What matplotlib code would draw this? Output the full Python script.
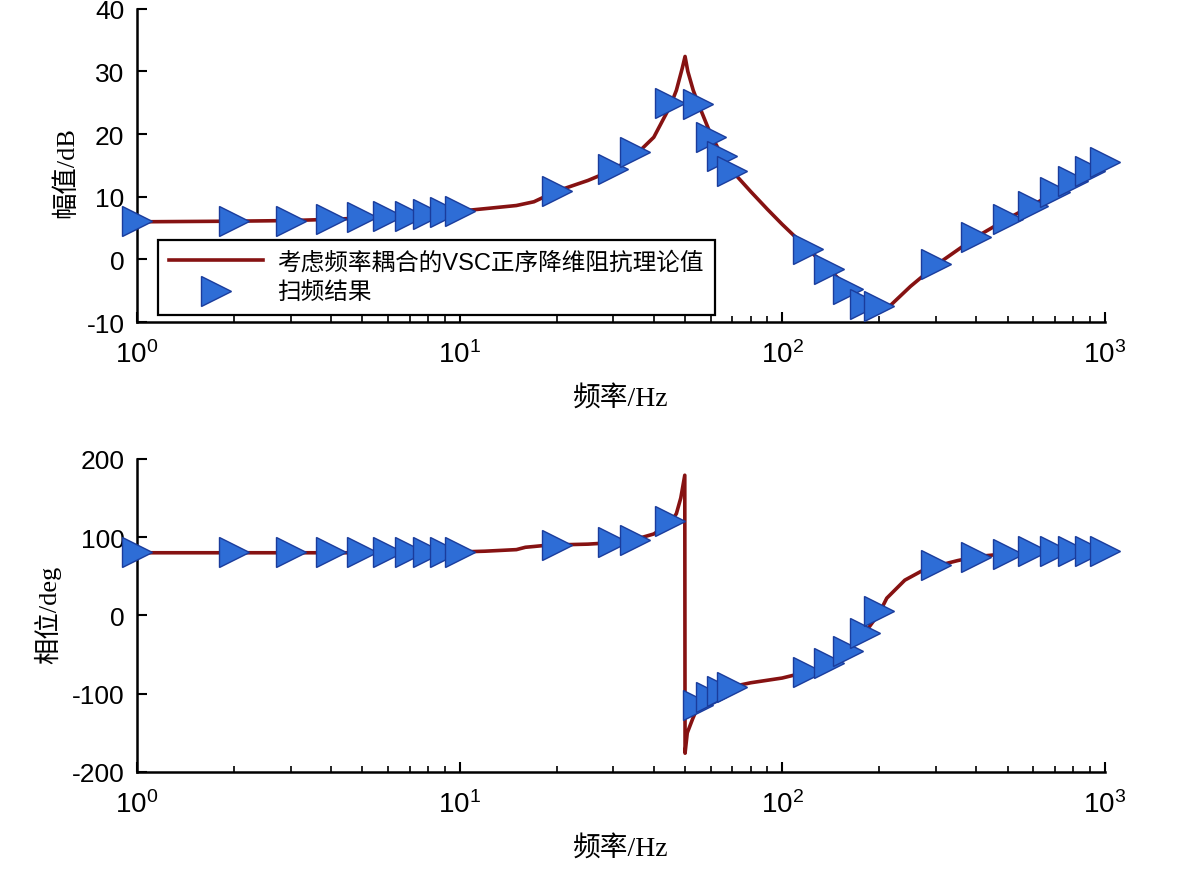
import matplotlib

matplotlib.use("Agg")
import matplotlib.pyplot as plt

plt.rcParams["font.family"] = ["Liberation Sans", "Noto Sans CJK SC"]
plt.rcParams["axes.unicode_minus"] = False

# theoretical impedance curve
curve_f = [1, 2, 3, 4, 5, 6, 7, 8, 9, 10, 12, 15, 17, 20, 25, 30, 35, 40, 45, 47, 49,
           50, 51, 53, 55, 60, 65, 70, 80, 90, 100, 120, 140, 160, 180, 200, 212,
           250, 300, 400, 500, 600, 700, 800, 900, 1000]
curve_mag = [6.0, 6.1, 6.2, 6.4, 6.6, 6.8, 7.0, 7.2, 7.5, 7.7, 8.1, 8.6, 9.2, 10.9, 12.6,
             14.3, 16.6, 19.5, 24.5, 27.0, 30.5, 32.4, 30.0, 27.0, 24.8, 20.0, 16.6,
             14.1, 10.8, 8.0, 5.6, 1.7, -1.6, -4.6, -6.9, -7.5, -7.8, -4.3, -0.9, 3.6,
             6.5, 8.7, 10.7, 12.4, 14.0, 15.4]

phase_f = [1, 2, 5, 10, 12, 15, 16, 17, 18, 20, 25, 30, 35, 40, 45, 47, 48.5, 49.9,
           50.0, 50.8, 52.8, 55, 60, 65, 70, 80, 100, 120, 140, 160, 180, 200, 211,
           240, 280, 300, 350, 400, 500, 600, 700, 1000]
phase_deg = [80, 80, 80, 81, 82, 84, 87, 88, 89, 90, 91, 93, 97, 104, 118, 130, 150,
             179, -176, -150, -132, -115, -104, -97, -91, -86, -80, -72, -62, -46, -23,
             3, 22, 45, 60, 63, 70, 75, 79, 81, 82, 82]

# frequency-scan results
scan_f = [1, 2, 3, 4, 5, 6, 7, 8, 9, 10, 20, 30, 35, 45, 55, 60, 65, 70, 120, 140, 160,
          180, 200, 300, 400, 500, 600, 700, 800, 900, 1000]
scan_mag = [6.1, 6.1, 6.2, 6.4, 6.7, 6.9, 7.0, 7.3, 7.5, 7.7, 10.9, 14.4, 17.1, 25.0,
            24.8, 19.6, 16.5, 14.1, 1.6, -1.6, -4.8, -7.2, -7.5, -0.8, 3.5, 6.4, 8.5,
            10.7, 12.5, 14.1, 15.5]
scan_phase = [81, 81, 81, 81, 81, 81, 81, 81, 81, 81, 90, 94, 96, 120, -115, -104, -97,
              -91, -72, -61, -46, -23, 5, 64, 75, 79, 82, 82, 82, 82, 82]

LINE_COLOR = "#861212"
MK_FACE = "#2e6dd6"
MK_EDGE = "#1a3c9c"
LABEL_FONT = ["Liberation Serif", "Noto Sans CJK SC"]


def style_axes(ax, ylim, yticks):
	ax.set_xscale("log")
	ax.set_xlim(1, 1000)
	ax.set_ylim(*ylim)
	ax.set_yticks(yticks)
	for side in ("top", "right"):
		ax.spines[side].set_visible(False)
	for side in ("left", "bottom"):
		ax.spines[side].set_linewidth(1.8)
	ax.tick_params(axis="both", which="major", direction="in", length=7, width=1.5, labelsize=19)
	ax.tick_params(axis="x", which="major", labelsize=20, pad=13)
	ax.tick_params(axis="both", which="minor", direction="in", length=4, width=1.2)
	ax.tick_params(axis="y", which="major", pad=9)
	ax.set_xlabel("频率/Hz", fontsize=20, family=LABEL_FONT, labelpad=12)


fig = plt.figure(figsize=(11.86, 8.70), dpi=100)
ax1 = fig.add_axes([0.1155, 0.6287, 0.816, 0.360])
ax2 = fig.add_axes([0.1155, 0.1115, 0.816, 0.360])

ax1.plot(curve_f, curve_mag, color=LINE_COLOR, lw=2.6, label="考虑频率耦合的VSC正序降维阻抗理论值", zorder=2)
ax1.plot(scan_f, scan_mag, ls="none", marker=">", ms=21, mfc=MK_FACE, mec=MK_EDGE, mew=1.0,
		 label="扫频结果", zorder=3, clip_on=False)
style_axes(ax1, (-10, 40), [-10, 0, 10, 20, 30, 40])
ax1.set_ylabel("幅值/dB", fontsize=19, family=LABEL_FONT)
ax1.yaxis.set_label_coords(-0.061, 0.48)
leg = ax1.legend(loc="lower left", bbox_to_anchor=(0.022, 0.024), borderaxespad=0, fancybox=False,
				 framealpha=1, edgecolor="black", handlelength=4.0, borderpad=0.45,
				 labelspacing=0.35, handletextpad=0.6,
				 prop={"family": ["Liberation Sans", "Noto Sans CJK SC"], "size": 17})
leg.get_frame().set_linewidth(1.6)

ax2.plot(phase_f, phase_deg, color=LINE_COLOR, lw=2.6, zorder=2)
ax2.plot(scan_f, scan_phase, ls="none", marker=">", ms=21, mfc=MK_FACE, mec=MK_EDGE, mew=1.0,
		 zorder=3, clip_on=False)
style_axes(ax2, (-200, 200), [-200, -100, 0, 100, 200])
ax2.set_ylabel("相位/deg", fontsize=19, family=LABEL_FONT)
ax2.yaxis.set_label_coords(-0.078, 0.505)

fig.savefig("out.png", dpi=100)
